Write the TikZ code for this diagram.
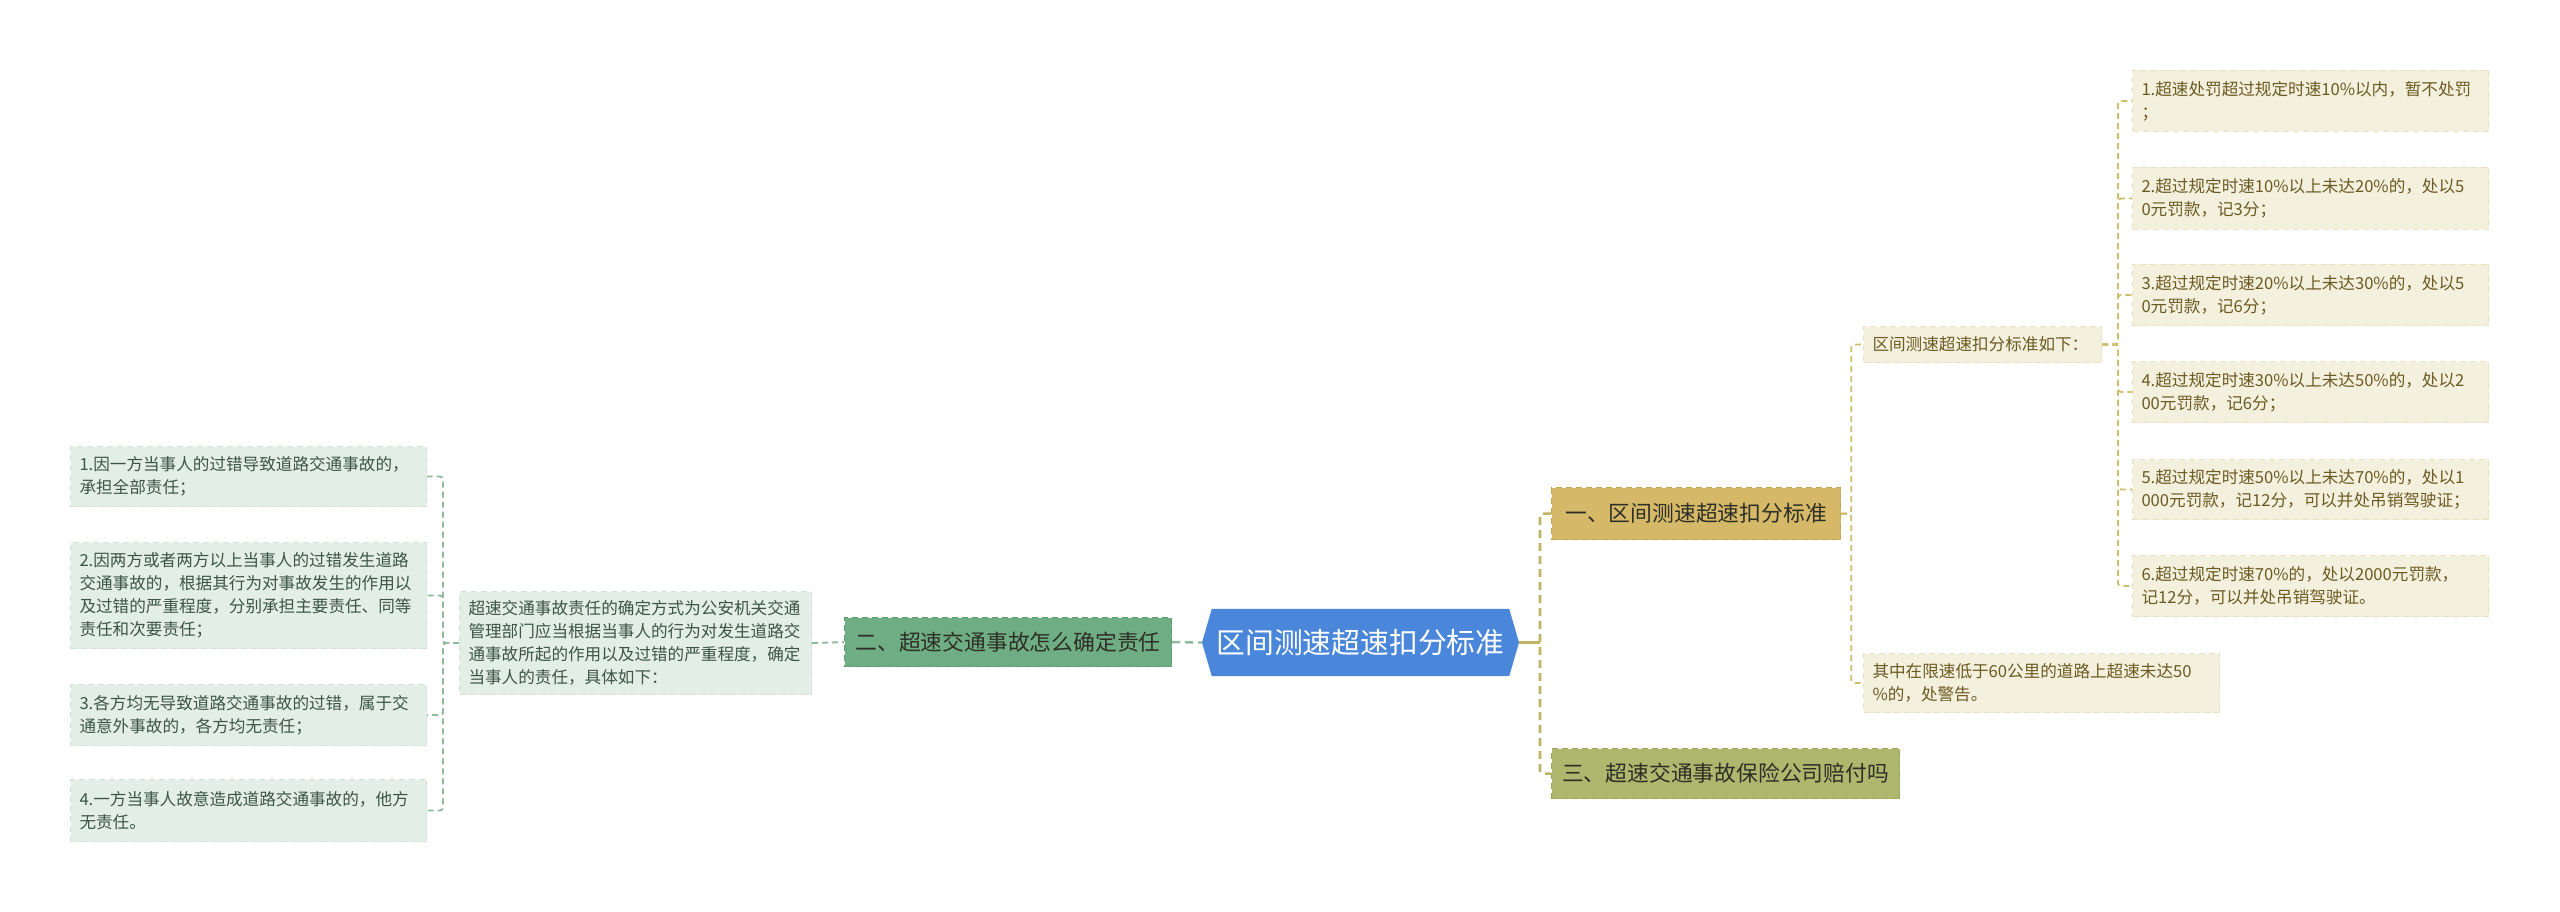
\documentclass[tikz,border=0pt]{standalone}
\usepackage{fontspec}
\setmainfont{Noto Sans CJK SC}
\usetikzlibrary{backgrounds}
\definecolor{cblue}{HTML}{4A86D9}
\definecolor{g2fill}{HTML}{6FAD84}
\definecolor{g2draw}{HTML}{5E9C73}
\definecolor{lgfill}{HTML}{E3EEE7}
\definecolor{lgdraw}{HTML}{D2E2D7}
\definecolor{lgtext}{HTML}{3D5446}
\definecolor{gline}{HTML}{8FBA9C}
\definecolor{y1fill}{HTML}{D5B968}
\definecolor{y1draw}{HTML}{C3A650}
\definecolor{y3fill}{HTML}{AFB66E}
\definecolor{y3draw}{HTML}{9CA55B}
\definecolor{bgfill}{HTML}{F4F0DE}
\definecolor{bgdraw}{HTML}{E8E1C4}
\definecolor{bgtext}{HTML}{6B5A21}
\definecolor{yline}{HTML}{CDBF6F}
\definecolor{mline}{HTML}{BDB564}
\definecolor{darktext}{HTML}{2E2F26}
\tikzset{
  base/.style={inner xsep=9pt, inner ysep=0pt, align=left, anchor=north west,
    font=\fontsize{16.6}{23}\selectfont, dash pattern=on 6pt off 4pt, line width=1pt},
  gbox/.style={base, fill=lgfill, draw=lgdraw, text=lgtext},
  bbox/.style={base, fill=bgfill, draw=bgdraw, text=bgtext},
  mainbox/.style={inner sep=0pt, anchor=north west, align=center,
    font=\fontsize{21.8}{26}\selectfont, text=darktext, dash pattern=on 6pt off 4pt, line width=1.2pt},
  glink/.style={draw=gline, line width=1.8pt, dash pattern=on 6pt off 4pt, rounded corners=3pt},
  ylink/.style={draw=yline, line width=1.8pt, dash pattern=on 6pt off 4pt, rounded corners=3pt},
  mlink/.style={draw=mline, line width=2.6pt, dash pattern=on 8pt off 5pt, rounded corners=3pt},
}
\begin{document}
\begin{tikzpicture}[x=1pt,y=1pt]
\useasboundingbox (0,0) rectangle (2560,-912);

% central node
\coordinate (cL) at (1202,-642.5);
\coordinate (cR) at (1519,-642.5);
\node[inner sep=0pt, minimum width=297pt, minimum height=67pt, text=white,
  font=\fontsize{28.8}{32}\selectfont] (c) at (1360.5,-642.5) {区间测速超速扣分标准};
\begin{scope}[on background layer]
\fill[white] (0,0) rectangle (2560,-912);
\fill[cblue] (c.north west) -- (c.north east) -- (cR) -- (c.south east) -- (c.south west) -- (cL) -- cycle;
\end{scope}

% left side
\node[mainbox, fill=g2fill, draw=g2draw, minimum width=327pt, minimum height=49pt] (n2) at (844,-617) {二、超速交通事故怎么确定责任};
\node[gbox, text width=334pt, minimum height=103pt] (para) at (459,-591)
  {超速交通事故责任的确定方式为公安机关交通\\管理部门应当根据当事人的行为对发生道路交\\通事故所起的作用以及过错的严重程度，确定\\当事人的责任，具体如下：};
\node[gbox, text width=338pt, minimum height=60pt] (l1) at (70,-446)
  {1.因一方当事人的过错导致道路交通事故的，\\承担全部责任；};
\node[gbox, text width=338pt, minimum height=106pt] (l2) at (70,-542)
  {2.因两方或者两方以上当事人的过错发生道路\\交通事故的，根据其行为对事故发生的作用以\\及过错的严重程度，分别承担主要责任、同等\\责任和次要责任；};
\node[gbox, text width=338pt, minimum height=61pt] (l3) at (70,-684)
  {3.各方均无导致道路交通事故的过错，属于交\\通意外事故的，各方均无责任；};
\node[gbox, text width=338pt, minimum height=62pt] (l4) at (70,-779)
  {4.一方当事人故意造成道路交通事故的，他方\\无责任。};

\draw[glink, line width=2.4pt, dash pattern=on 8pt off 5pt] (n2.east) -- (cL);
\draw[glink] (para.east) -- (n2.west);
\foreach \t in {l1,l2,l3,l4} {
  \draw[glink] (para.west) -- ++(-16,0) |- (\t.east);
}

% right side
\node[mainbox, fill=y1fill, draw=y1draw, minimum width=289pt, minimum height=52pt] (n1) at (1551,-487) {一、区间测速超速扣分标准};
\node[mainbox, fill=y3fill, draw=y3draw, minimum width=348pt, minimum height=50pt] (n3) at (1551,-748) {三、超速交通事故保险公司赔付吗};
\node[bbox, text width=220pt, minimum height=36pt] (rh) at (1863,-326) {区间测速超速扣分标准如下：};
\node[bbox, text width=338pt, minimum height=59pt] (q) at (1863,-653)
  {其中在限速低于60公里的道路上超速未达50\\\%的，处警告。};
\node[bbox, text width=338pt, minimum height=61pt] (r1) at (2132,-70)
  {1.超速处罚超过规定时速10\%以内，暂不处罚\\；};
\node[bbox, text width=338pt, minimum height=62pt] (r2) at (2132,-167)
  {2.超过规定时速10\%以上未达20\%的，处以5\\0元罚款，记3分；};
\node[bbox, text width=338pt, minimum height=61pt] (r3) at (2132,-264)
  {3.超过规定时速20\%以上未达30\%的，处以5\\0元罚款，记6分；};
\node[bbox, text width=338pt, minimum height=61pt] (r4) at (2132,-361)
  {4.超过规定时速30\%以上未达50\%的，处以2\\00元罚款，记6分；};
\node[bbox, text width=338pt, minimum height=60pt] (r5) at (2132,-459)
  {5.超过规定时速50\%以上未达70\%的，处以1\\000元罚款，记12分，可以并处吊销驾驶证；};
\node[bbox, text width=338pt, minimum height=61pt] (r6) at (2132,-555)
  {6.超过规定时速70\%的，处以2000元罚款，\\记12分，可以并处吊销驾驶证。};

\draw[draw=mline, line width=2.6pt] (cR) -- ++(21,0) coordinate (rj);
\draw[mlink] (n1.west) -| (rj) |- (n3.west);
\draw[ylink] (n1.east) -- ++(10,0) |- (rh.west);
\draw[ylink] (n1.east) -- ++(10,0) |- (q.west);
\foreach \t in {r1,r2,r3,r4,r5,r6} {
  \draw[ylink] (rh.east) -- ++(16,0) |- (\t.west);
}
\end{tikzpicture}
\end{document}
